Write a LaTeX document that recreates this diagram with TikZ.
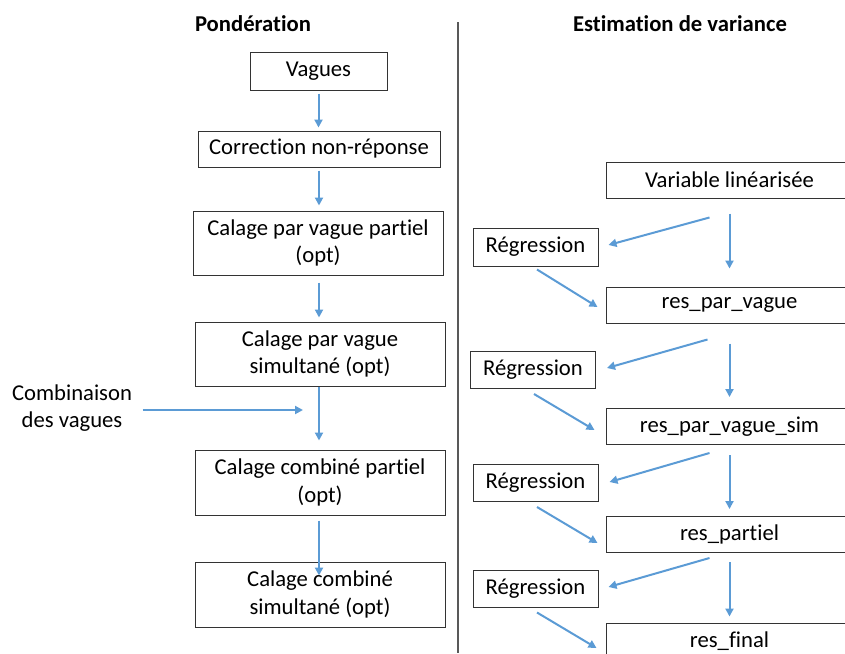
\documentclass[tikz,border=0pt]{standalone}
\usepackage{fontspec}
\setmainfont{Carlito}[Ligatures=NoCommon]
\usetikzlibrary{arrows.meta}
\newlength\px
\setlength\px{0.75pt}
\definecolor{flowblue}{RGB}{91,155,213}

\begin{document}
\begin{tikzpicture}[x=\px, y=-\px,
	every node/.style={font=\fontsize{17}{20.5}\selectfont},
	box/.style={draw=black!80, line width=0.75pt, align=center, inner sep=0pt, minimum height=36\px},
	regbox/.style={box, minimum width=125\px, minimum height=37\px},
	resbox/.style={box, minimum width=247\px},
	flow/.style={flowblue, line width=1.5pt, -{Triangle[width=6pt,length=6pt]}}]
	\clip (0,0) rectangle (845,653);
	% titres et separation
	\node[font=\fontsize{17}{20.5}\selectfont\bfseries] (pond) at (253,24) {Pondération};
	\node[font=\fontsize{17}{20.5}\selectfont\bfseries] (estim) at (680,24) {Estimation de variance};
	\draw[black!65, line width=0.8pt] (458,22) -- (458,653);
	% ponderation
	\node[box, minimum width=137\px, minimum height=38\px] (vag) at (318.5,71) {Vagues};
	\node[box, minimum width=242\px] (cnr) at (319,149) {Correction non-réponse};
	\node[box, minimum width=250\px, minimum height=64\px] (cvp) at (318,243) {Calage par vague partiel\\(opt)};
	\node[box, minimum width=250\px, minimum height=64\px] (cvs) at (320,354) {Calage par vague\\simultané (opt)};
	\node[box, minimum width=250\px, minimum height=65\px] (ccp) at (320,482.5) {Calage combiné partiel\\(opt)};
	\node[box, minimum width=250\px, minimum height=65\px] (ccs) at (320,594.5) {Calage combiné\\simultané (opt)};
	\node[align=center] (comb) at (72,408) {Combinaison\\des vagues};
	\coordinate (join) at (303,410);
	\draw[flow, shorten <=2.25pt, shorten >=2.25pt] (vag.south) -- (vag.south |- cnr.north);
	\draw[flow, shorten <=2.25pt, shorten >=3.75pt] (cnr.south) -- (cnr.south |- cvp.north);
	\draw[flow, shorten <=5.25pt, shorten >=3pt] (cnr.south |- cvp.south) -- (cnr.south |- cvs.north);
	\draw[flow, shorten >=6.75pt] (cnr.south |- cvs.south) -- (cnr.south |- ccp.north);
	\draw[flow, shorten <=3.75pt, shorten >=-10.5pt] (cnr.south |- ccp.south) -- (cnr.south |- ccs.north);
	\draw[flow, shorten <=4.5pt] (comb.east |- join) -- (join);
	% estimation de variance
	\node[resbox] (var) at (729.5,180) {Variable linéarisée};
	\node[resbox] (rpv) at (729.5,305) {res\_par\_vague};
	\node[resbox] (rpvs) at (729.5,426.5) {res\_par\_vague\_sim};
	\node[resbox] (rpa) at (729.5,534.5) {res\_partiel};
	\node[resbox] (rfi) at (729.5,641) {res\_final};
	\node[regbox, minimum height=38\px] (reg1) at (535.5,247) {Régression};
	\node[regbox] (reg2) at (533,370) {Régression};
	\node[regbox] (reg3) at (535.5,483) {Régression};
	\node[regbox] (reg4) at (535.5,588.5) {Régression};
	\draw[flow, shorten <=11.25pt, shorten >=13.5pt] (var.south) -- (var.south |- rpv.north);
	\draw[flow, shorten <=15pt, shorten >=8.25pt] (rpv.south) -- (rpv.south |- rpvs.north);
	\draw[flow, shorten <=7.5pt, shorten >=5.25pt] (rpvs.south) -- (rpvs.south |- rpa.north);
	\draw[flow, shorten <=6.75pt, shorten >=4.5pt] (rpa.south) -- (rpa.south |- rfi.north);
	\draw[flow] ([shift={(104,19)}]var.south west) -- ([shift={(10,-2)}]reg1.east);
	\draw[flow] ([shift={(102,16)}]rpv.south west) -- ([shift={(11,-2)}]reg2.east);
	\draw[flow] ([shift={(104,8)}]rpvs.south west) -- ([shift={(11,-1)}]reg3.east);
	\draw[flow] ([shift={(104,5)}]rpa.south west) -- ([shift={(10,-1.5)}]reg4.east);
	\draw[flow] ([shift={(1.5,3)}]reg1.south) -- ([shift={(-8,2)}]rpv.west);
	\draw[flow] ([shift={(1,5)}]reg2.south) -- ([shift={(-11,3.5)}]rpvs.west);
	\draw[flow] ([shift={(1.5,5)}]reg3.south) -- ([shift={(-8,8.5)}]rpa.west);
	\draw[flow] ([shift={(1.5,5)}]reg4.south) -- ([shift={(-9,7)}]rfi.west);
\end{tikzpicture}
\end{document}
